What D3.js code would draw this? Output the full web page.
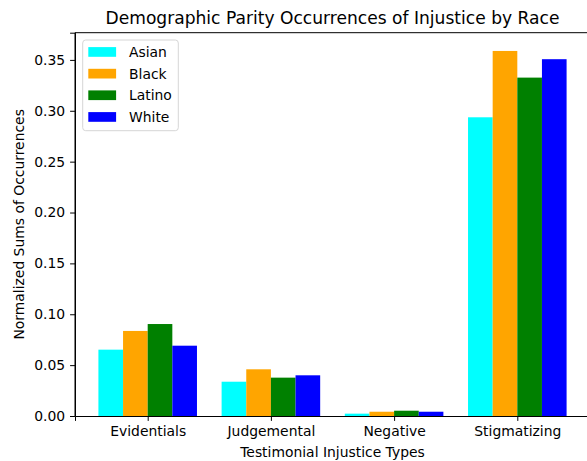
<!DOCTYPE html>
<html>
<head>
<meta charset="utf-8">
<script src="https://cdn.jsdelivr.net/npm/d3@7"></script>
<style>
  html, body { margin: 0; padding: 0; background: #fff; }
  svg { display: block; font-family: "DejaVu Sans", sans-serif; }
</style>
</head>
<body>
<svg id="chart" width="587" height="461"></svg>
<script>
const categories = ["Evidentials", "Judgemental", "Negative", "Stigmatizing"];
const seriesNames = ["Asian", "Black", "Latino", "White"];
const seriesColors = ["cyan", "orange", "green", "blue"];
const asian  = [0.0652, 0.0337, 0.0023, 0.2936];
const black  = [0.0836, 0.0459, 0.0042, 0.3588];
const latino = [0.0904, 0.0377, 0.0052, 0.3326];
const white  = [0.0691, 0.0400, 0.0042, 0.3507];
const yTicks = [0, 0.05, 0.10, 0.15, 0.20, 0.25, 0.30, 0.35];
const titleText = "Demographic Parity Occurrences of Injustice by Race";
const xLabel = "Testimonial Injustice Types";
const yLabel = "Normalized Sums of Occurrences";

(function () {
const series = [asian, black, latino, white];
const barW = 0.2;
const svg = d3.select("#chart");

const mL = 75, mR = 590, mT = 32.7, mB = 416;
const x = d3.scaleLinear().domain([-0.59, 3.59]).range([mL, mR]);
const ymax = d3.max(series.flat()) * 1.05;
const y = d3.scaleLinear().domain([0, ymax]).range([mB, mT]);

// bars
series.forEach((vals, s) => {
  svg.append("g").selectAll("rect").data(vals).join("rect")
    .attr("x", (d, i) => x(i + (s - 2) * barW))
    .attr("width", x(barW) - x(0))
    .attr("y", d => y(d))
    .attr("height", d => y(0) - y(d))
    .attr("fill", seriesColors[s]);
});

// axes
const fs = 13.9;
const xAxis = d3.axisBottom(x).tickValues(d3.range(categories.length))
  .tickFormat(i => categories[i]).tickSizeOuter(0).tickSize(4.9).tickPadding(4.9);
const gx = svg.append("g").attr("transform", `translate(0,${mB})`).call(xAxis);
const yAxis = d3.axisLeft(y).tickValues(yTicks).tickFormat(d3.format(".2f"))
  .tickSizeOuter(0).tickSize(4.9).tickPadding(4.9);
const gy = svg.append("g").attr("transform", `translate(${mL},0)`).call(yAxis);
[gx, gy].forEach(g => {
  g.selectAll("text").attr("font-size", fs).attr("font-family", "DejaVu Sans").attr("fill", "#000");
  g.selectAll("line").attr("stroke", "#000").attr("stroke-width", 1);
  g.select(".domain").attr("stroke", "#000").attr("stroke-width", 1);
});
// spines
svg.append("line").attr("x1", mL).attr("x2", mR).attr("y1", mT).attr("y2", mT).attr("stroke", "#000");
svg.append("line").attr("x1", mR).attr("x2", mR).attr("y1", mT).attr("y2", mB).attr("stroke", "#000");
svg.append("line").attr("x1", mL).attr("x2", mL).attr("y1", mT).attr("y2", mB).attr("stroke", "#000");

// title and labels
svg.append("text").attr("x", (mL + mR) / 2).attr("y", 24.4)
  .attr("text-anchor", "middle").attr("font-size", 17.1).attr("fill", "#000").text(titleText);
svg.append("text").attr("x", (mL + mR) / 2).attr("y", 457)
  .attr("text-anchor", "middle").attr("font-size", fs).attr("fill", "#000").text(xLabel);
svg.append("text").attr("transform", `translate(23.5,${(mT + mB) / 2}) rotate(-90)`)
  .attr("text-anchor", "middle").attr("font-size", fs).attr("fill", "#000").text(yLabel);

// legend
const lg = svg.append("g");
lg.append("rect").attr("x", 82.7).attr("y", 40).attr("width", 95.6).attr("height", 90.7)
  .attr("rx", 3).attr("fill", "#fff").attr("fill-opacity", 0.8).attr("stroke", "#d6d6d6");
const rowY = [52, 73.7, 95.3, 117];
seriesNames.forEach((n, s) => {
  lg.append("rect").attr("x", 88.3).attr("y", rowY[s] - 4.9).attr("width", 27.8).attr("height", 9.7)
    .attr("fill", seriesColors[s]);
  lg.append("text").attr("x", 129).attr("y", rowY[s]).attr("dy", "0.36em")
    .attr("font-size", fs).attr("fill", "#000").text(n);
});
})();
</script>
</body>
</html>
